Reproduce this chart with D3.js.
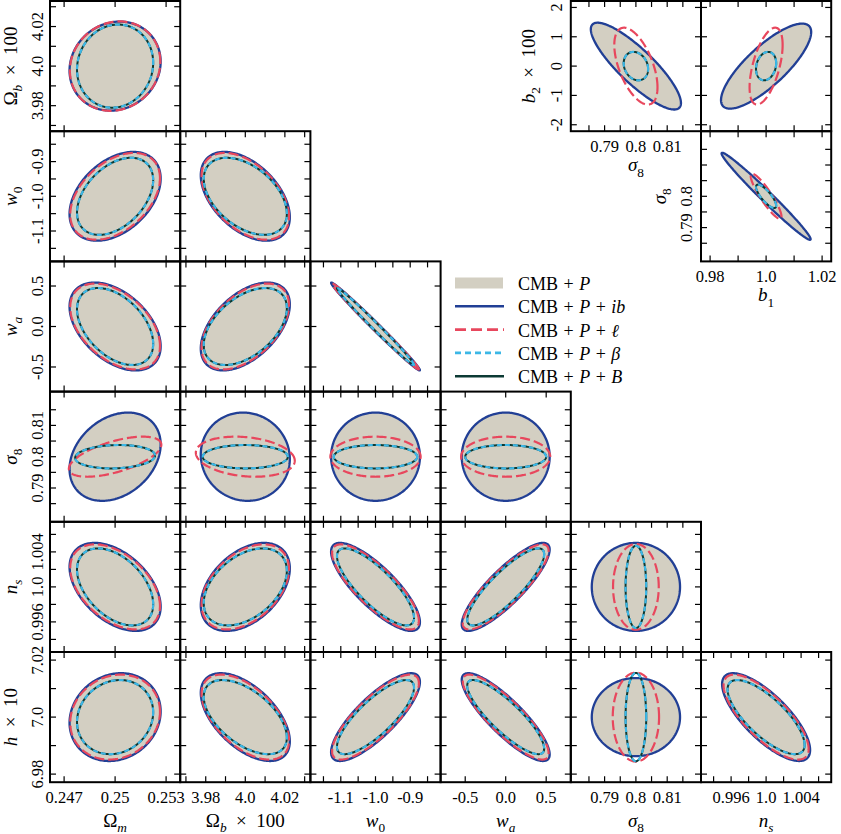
<!DOCTYPE html>
<html><head><meta charset="utf-8">
<script src="https://cdn.jsdelivr.net/npm/d3@7"></script>
<style>body{margin:0;background:#fff}svg{display:block}svg text{font-family:'Liberation Serif','DejaVu Serif',serif}</style>
</head><body>
<svg id="c" width="841" height="834"></svg>
<script>
// ---------------- DATA ----------------
// parameters: Ωm, Ωb×100, w0, wa, σ8, ns, h×10, b1, b2×100
const paramKeys   = ['Om','Ob','w0','wa','s8','ns','h','b1','b2'];
const fiducial    = [0.25, 4.0, -1.0, 0.0, 0.8, 1.0, 7.0, 1.0, 0.0];
const halfRange   = [0.00383, 0.0329, 0.1876, 0.804, 0.0208, 0.00744, 0.02284, 0.02325, 2.22];
const tickStep    = [0.003, 0.01, 0.05, 0.5, 0.005, 0.002, 0.01, 0.01, 1];
const tickLabelValues = [
  [0.247, 0.25, 0.253], [3.98, 4.0, 4.02], [-1.1, -1.0, -0.9], [-0.5, 0.0, 0.5],
  [0.79, 0.8, 0.81], [0.996, 1.0, 1.004], [6.98, 7.0, 7.02], [0.98, 1.0, 1.02], [-2, -1, 0, 1, 2]
];
const tickLabelTexts = [
  ['0.247','0.25','0.253'], ['3.98','4.0','4.02'], ['-1.1','-1.0','-0.9'], ['-0.5','0.0','0.5'],
  ['0.79','0.8','0.81'], ['0.996','1.0','1.004'], ['6.98','7.0','7.02'], ['0.98','1.0','1.02'], ['-2','-1','0','1','2']
];
const insetS8YLabelValues = [0.79, 0.8];
const insetS8YLabelTexts  = ['0.79', '0.8'];

// panels: [x parameter, y parameter]
const panelPairs = [
  [0,1],
  [0,2],[1,2],
  [0,3],[1,3],[2,3],
  [0,4],[1,4],[2,4],[3,4],
  [0,5],[1,5],[2,5],[3,5],[4,5],
  [0,6],[1,6],[2,6],[3,6],[4,6],[5,6],
  [4,8],[7,8],[7,4]
];

// ellipse half-extents along x, y (data units) and correlation, per panel, per series
const ellCMBP = [
  [0.00268,0.0225,0.10],
  [0.00268,0.128,0.40],[0.0225,0.128,-0.47],
  [0.00268,0.543,-0.45],[0.0225,0.543,0.50],[0.128,0.543,-0.993],
  [0.00268,0.0141,0.28],[0.0225,0.0141,-0.05],[0.128,0.0141,0.0],[0.543,0.0141,0.0],
  [0.00268,0.00503,-0.45],[0.0225,0.00503,0.42],[0.128,0.00503,-0.80],[0.543,0.00503,0.85],[0.0141,0.00503,0.0],
  [0.00268,0.0154,0.13],[0.0225,0.0154,-0.55],[0.128,0.0154,0.80],[0.543,0.0154,-0.85],[0.0141,0.0137,0.0],[0.00503,0.0154,-0.75],
  [0.0144,1.48,-0.85],[0.0161,1.45,0.80],[0.0159,0.0139,-0.985]
];
const ellIb = [
  [0.00268,0.0225,0.10],
  [0.00268,0.128,0.40],[0.0225,0.128,-0.47],
  [0.00268,0.543,-0.45],[0.0225,0.543,0.50],[0.128,0.543,-0.993],
  [0.00268,0.0141,0.28],[0.0225,0.0141,-0.05],[0.128,0.0141,0.0],[0.543,0.0141,0.0],
  [0.00268,0.00503,-0.45],[0.0225,0.00503,0.42],[0.128,0.00503,-0.80],[0.543,0.00503,0.85],[0.0141,0.00503,0.0],
  [0.00268,0.0154,0.13],[0.0225,0.0154,-0.55],[0.128,0.0154,0.80],[0.543,0.0154,-0.85],[0.0141,0.0137,0.0],[0.00503,0.0154,-0.75],
  [0.0144,1.48,-0.85],[0.0161,1.45,0.80],[0.0159,0.0139,-0.985]
];
const ellEll = [
  [0.00266,0.0226,0.10],
  [0.00264,0.125,0.42],[0.0221,0.125,-0.47],
  [0.00264,0.530,-0.45],[0.0221,0.530,0.50],[0.125,0.530,-0.993],
  [0.00272,0.0064,0.60],[0.0250,0.0064,-0.20],[0.130,0.0064,0.0],[0.550,0.0064,0.0],
  [0.00264,0.00486,-0.45],[0.0221,0.00486,0.42],[0.125,0.00486,-0.80],[0.530,0.00486,0.85],[0.0073,0.0049,0.0],
  [0.00264,0.0149,0.13],[0.0221,0.0149,-0.55],[0.125,0.0149,0.80],[0.530,0.0149,-0.85],[0.0074,0.0156,0.0],[0.00486,0.0149,-0.75],
  [0.0069,1.31,-0.55],[0.0059,1.31,0.55],[0.0055,0.0072,-0.90]
];
const ellBeta = [
  [0.00224,0.0210,0.08],
  [0.00224,0.111,0.42],[0.0210,0.111,-0.45],
  [0.00224,0.475,-0.45],[0.0210,0.475,0.48],[0.111,0.475,-0.993],
  [0.00235,0.00374,0.10],[0.0215,0.00374,0.0],[0.120,0.00374,0.0],[0.500,0.00374,0.0],
  [0.00224,0.0044,-0.45],[0.0210,0.0044,0.42],[0.111,0.0044,-0.80],[0.475,0.0044,0.85],[0.0033,0.0047,0.0],
  [0.00224,0.0130,0.13],[0.0210,0.0130,-0.55],[0.111,0.0130,0.80],[0.475,0.0130,-0.85],[0.0033,0.0155,0.0],[0.0044,0.0130,-0.75],
  [0.0039,0.485,-0.20],[0.0036,0.485,0.20],[0.0036,0.00374,-0.80]
];
const ellB = [
  [0.00224,0.0210,0.08],
  [0.00224,0.111,0.42],[0.0210,0.111,-0.45],
  [0.00224,0.475,-0.45],[0.0210,0.475,0.48],[0.111,0.475,-0.993],
  [0.00235,0.00374,0.10],[0.0215,0.00374,0.0],[0.120,0.00374,0.0],[0.500,0.00374,0.0],
  [0.00224,0.0044,-0.45],[0.0210,0.0044,0.42],[0.111,0.0044,-0.80],[0.475,0.0044,0.85],[0.0033,0.0047,0.0],
  [0.00224,0.0130,0.13],[0.0210,0.0130,-0.55],[0.111,0.0130,0.80],[0.475,0.0130,-0.85],[0.0033,0.0155,0.0],[0.0044,0.0130,-0.75],
  [0.0039,0.485,-0.20],[0.0036,0.485,0.20],[0.0036,0.00374,-0.80]
];

const legendLabels = [
  [['CMB','n'],['+','op'],['P','i']],
  [['CMB','n'],['+','op'],['P','i'],['+','op'],['ib','i']],
  [['CMB','n'],['+','op'],['P','i'],['+','op'],['ℓ','i']],
  [['CMB','n'],['+','op'],['P','i'],['+','op'],['β','i']],
  [['CMB','n'],['+','op'],['P','i'],['+','op'],['B','i']]
];

// ---------------- LAYOUT / STYLE ----------------
const X0 = 50, Y0 = 1, CELL = 130.2;
const panelCells = [
  [0,0],
  [0,1],[1,1],
  [0,2],[1,2],[2,2],
  [0,3],[1,3],[2,3],[3,3],
  [0,4],[1,4],[2,4],[3,4],[4,4],
  [0,5],[1,5],[2,5],[3,5],[4,5],[5,5],
  [4,0],[5,0],[5,1]
];
const xLabelPanels = [15,16,17,18,19,20,21,23];
const yLabelPanels = [0,1,3,6,10,15,21,23];
const C = {fill:'#d3cfc2', ib:'#213f95', ell:'#e8475d', beta:'#3cb7e6', B:'#0c3a34'};

const svg = d3.select('#c');
const gAll = svg.append('g');

function scaleFor(p, a, b) {
  return d3.scaleLinear().domain([fiducial[p]-halfRange[p], fiducial[p]+halfRange[p]]).range([a, b]);
}
function ticksFor(p, sc) {
  const out = [];
  const r = sc.range();
  for (let k = -40; k <= 40; k++) {
    const v = fiducial[p] + k*tickStep[p];
    const px = sc(v);
    if (Math.abs(px - r[0]) > 4 && Math.abs(px - r[1]) > 4 &&
        px > Math.min(r[0], r[1]) && px < Math.max(r[0], r[1])) out.push(v);
  }
  return out;
}
function ellipse(fx, fy, e) {
  const [sx, sy, r] = e;
  const q = Math.sqrt(1 - r*r);
  return d3.range(0, 240).map(i => {
    const t = i/240*2*Math.PI;
    return [fx + sx*Math.cos(t), fy + sy*(r*Math.cos(t) + q*Math.sin(t))];
  });
}

function richText(sel, parts, size) {
  const sub = size*0.7, shift = size*0.28;
  let inSub = false;
  parts.forEach(([t, st]) => {
    const ts = sel.append('tspan').text(t);
    const isSub = st === 's' || st === 'si';
    if (st === 'i' || st === 'si') ts.attr('font-style', 'italic');
    if (isSub) { ts.attr('font-size', sub); if (!inSub) ts.attr('dy', shift); }
    else if (inSub) ts.attr('dy', -shift);
    inSub = isSub;
  });
}
const axisNames = [
  [['Ω','n'],['m','si']],
  [['Ω','n'],['b','si'],['\u2002×\u2002100','n']],
  [['w','i'],['0','s']],
  [['w','i'],['a','si']],
  [['σ','i'],['8','s']],
  [['n','i'],['s','si']],
  [['h','i'],['\u2002×\u200210','n']],
  [['b','i'],['1','s']],
  [['b','i'],['2','s'],['\u2002×\u2002100','n']]
];

const line = d3.line().curve(d3.curveLinearClosed);

panelPairs.forEach((pair, i) => {
  const [px, py] = pair;
  const [col, row] = panelCells[i];
  const x0 = X0 + col*CELL, x1 = x0 + CELL, y0 = Y0 + row*CELL, y1 = y0 + CELL;
  const xs = scaleFor(px, x0, x1), ys = scaleFor(py, y1, y0);
  const g = gAll.append('g');
  const fx = fiducial[px], fy = fiducial[py];
  const path = e => line(ellipse(fx, fy, e).map(([a, b]) => [xs(a), ys(b)]));

  g.append('path').attr('d', path(ellCMBP[i])).attr('fill', C.fill).attr('stroke', 'none');
  g.append('path').attr('d', path(ellIb[i])).attr('fill', 'none').attr('stroke', C.ib).attr('stroke-width', 2.3);
  g.append('path').attr('d', path(ellEll[i])).attr('fill', 'none').attr('stroke', C.ell).attr('stroke-width', 2.2).attr('stroke-dasharray', '10,4');
  g.append('path').attr('d', path(ellB[i])).attr('fill', 'none').attr('stroke', C.B).attr('stroke-width', 2.0);
  g.append('path').attr('d', path(ellBeta[i])).attr('fill', 'none').attr('stroke', C.beta).attr('stroke-width', 2.2).attr('stroke-dasharray', '5,3');

  const tl = 6;
  ticksFor(px, xs).forEach(v => {
    const X = xs(v);
    g.append('line').attr('x1', X).attr('x2', X).attr('y1', y1).attr('y2', y1 - tl).attr('stroke', '#000').attr('stroke-width', 1.2);
    g.append('line').attr('x1', X).attr('x2', X).attr('y1', y0).attr('y2', y0 + tl).attr('stroke', '#000').attr('stroke-width', 1.2);
  });
  ticksFor(py, ys).forEach(v => {
    const Y = ys(v);
    g.append('line').attr('y1', Y).attr('y2', Y).attr('x1', x0).attr('x2', x0 + tl).attr('stroke', '#000').attr('stroke-width', 1.2);
    g.append('line').attr('y1', Y).attr('y2', Y).attr('x1', x1).attr('x2', x1 - tl).attr('stroke', '#000').attr('stroke-width', 1.2);
  });
  g.append('rect').attr('x', x0).attr('y', y0).attr('width', CELL).attr('height', CELL)
    .attr('fill', 'none').attr('stroke', '#000').attr('stroke-width', 2);

  if (xLabelPanels.includes(i)) {
    tickLabelValues[px].forEach((v, k) => {
      g.append('text').attr('x', xs(v)).attr('y', y1 + 21).attr('text-anchor', 'middle')
        .attr('font-size', 16.5).text(tickLabelTexts[px][k]);
    });
    const nm = g.append('text').attr('x', (x0 + x1)/2).attr('y', i < 21 ? 827 : y1 + 40)
      .attr('text-anchor', 'middle').attr('font-size', 19);
    richText(nm, axisNames[px], 19);
  }
  if (yLabelPanels.includes(i)) {
    const vals = i === 23 ? insetS8YLabelValues : tickLabelValues[py];
    const txts = i === 23 ? insetS8YLabelTexts : tickLabelTexts[py];
    const bx = col === 0 ? X0 - 7 : x0 - 9;
    vals.forEach((v, k) => {
      g.append('text').attr('transform', `translate(${bx},${ys(v)}) rotate(-90)`).attr('text-anchor', 'middle')
        .attr('font-size', 16.5).text(txts[k]);
    });
    const nx = col === 0 ? 17 : (i === 21 ? x0 - 36 : x0 - 35);
    const nm = g.append('text').attr('transform', `translate(${nx},${(y0 + y1)/2}) rotate(-90)`)
      .attr('text-anchor', 'middle').attr('font-size', 19);
    richText(nm, axisNames[py], 19);
  }
});

// ---------------- LEGEND ----------------
const lg = gAll.append('g').attr('font-size', 18);
const ly = [283, 306.3, 329.6, 352.9, 376.2];
lg.append('rect').attr('x', 455).attr('y', ly[0] - 5.5).attr('width', 48).attr('height', 11).attr('fill', C.fill);
const legStyles = [
  null,
  {c: C.ib, d: null, w: 2.6},
  {c: C.ell, d: '11,5', w: 2.6},
  {c: C.beta, d: '6,4', w: 2.6},
  {c: C.B, d: null, w: 2.6}
];
legStyles.forEach((s, k) => {
  if (!s) return;
  const l = lg.append('line').attr('x1', 455).attr('x2', 504).attr('y1', ly[k]).attr('y2', ly[k])
    .attr('stroke', s.c).attr('stroke-width', s.w);
  if (s.d) l.attr('stroke-dasharray', s.d);
});
legendLabels.forEach((parts, k) => {
  const t = lg.append('text').attr('x', 518).attr('y', ly[k] + 7);
  parts.forEach(([p, st]) => {
    const ts = t.append('tspan').text(p);
    if (st === 'i') ts.attr('font-style', 'italic');
    if (p !== 'CMB') ts.attr('dx', 5.5);
  });
});
</script>
</body></html>
